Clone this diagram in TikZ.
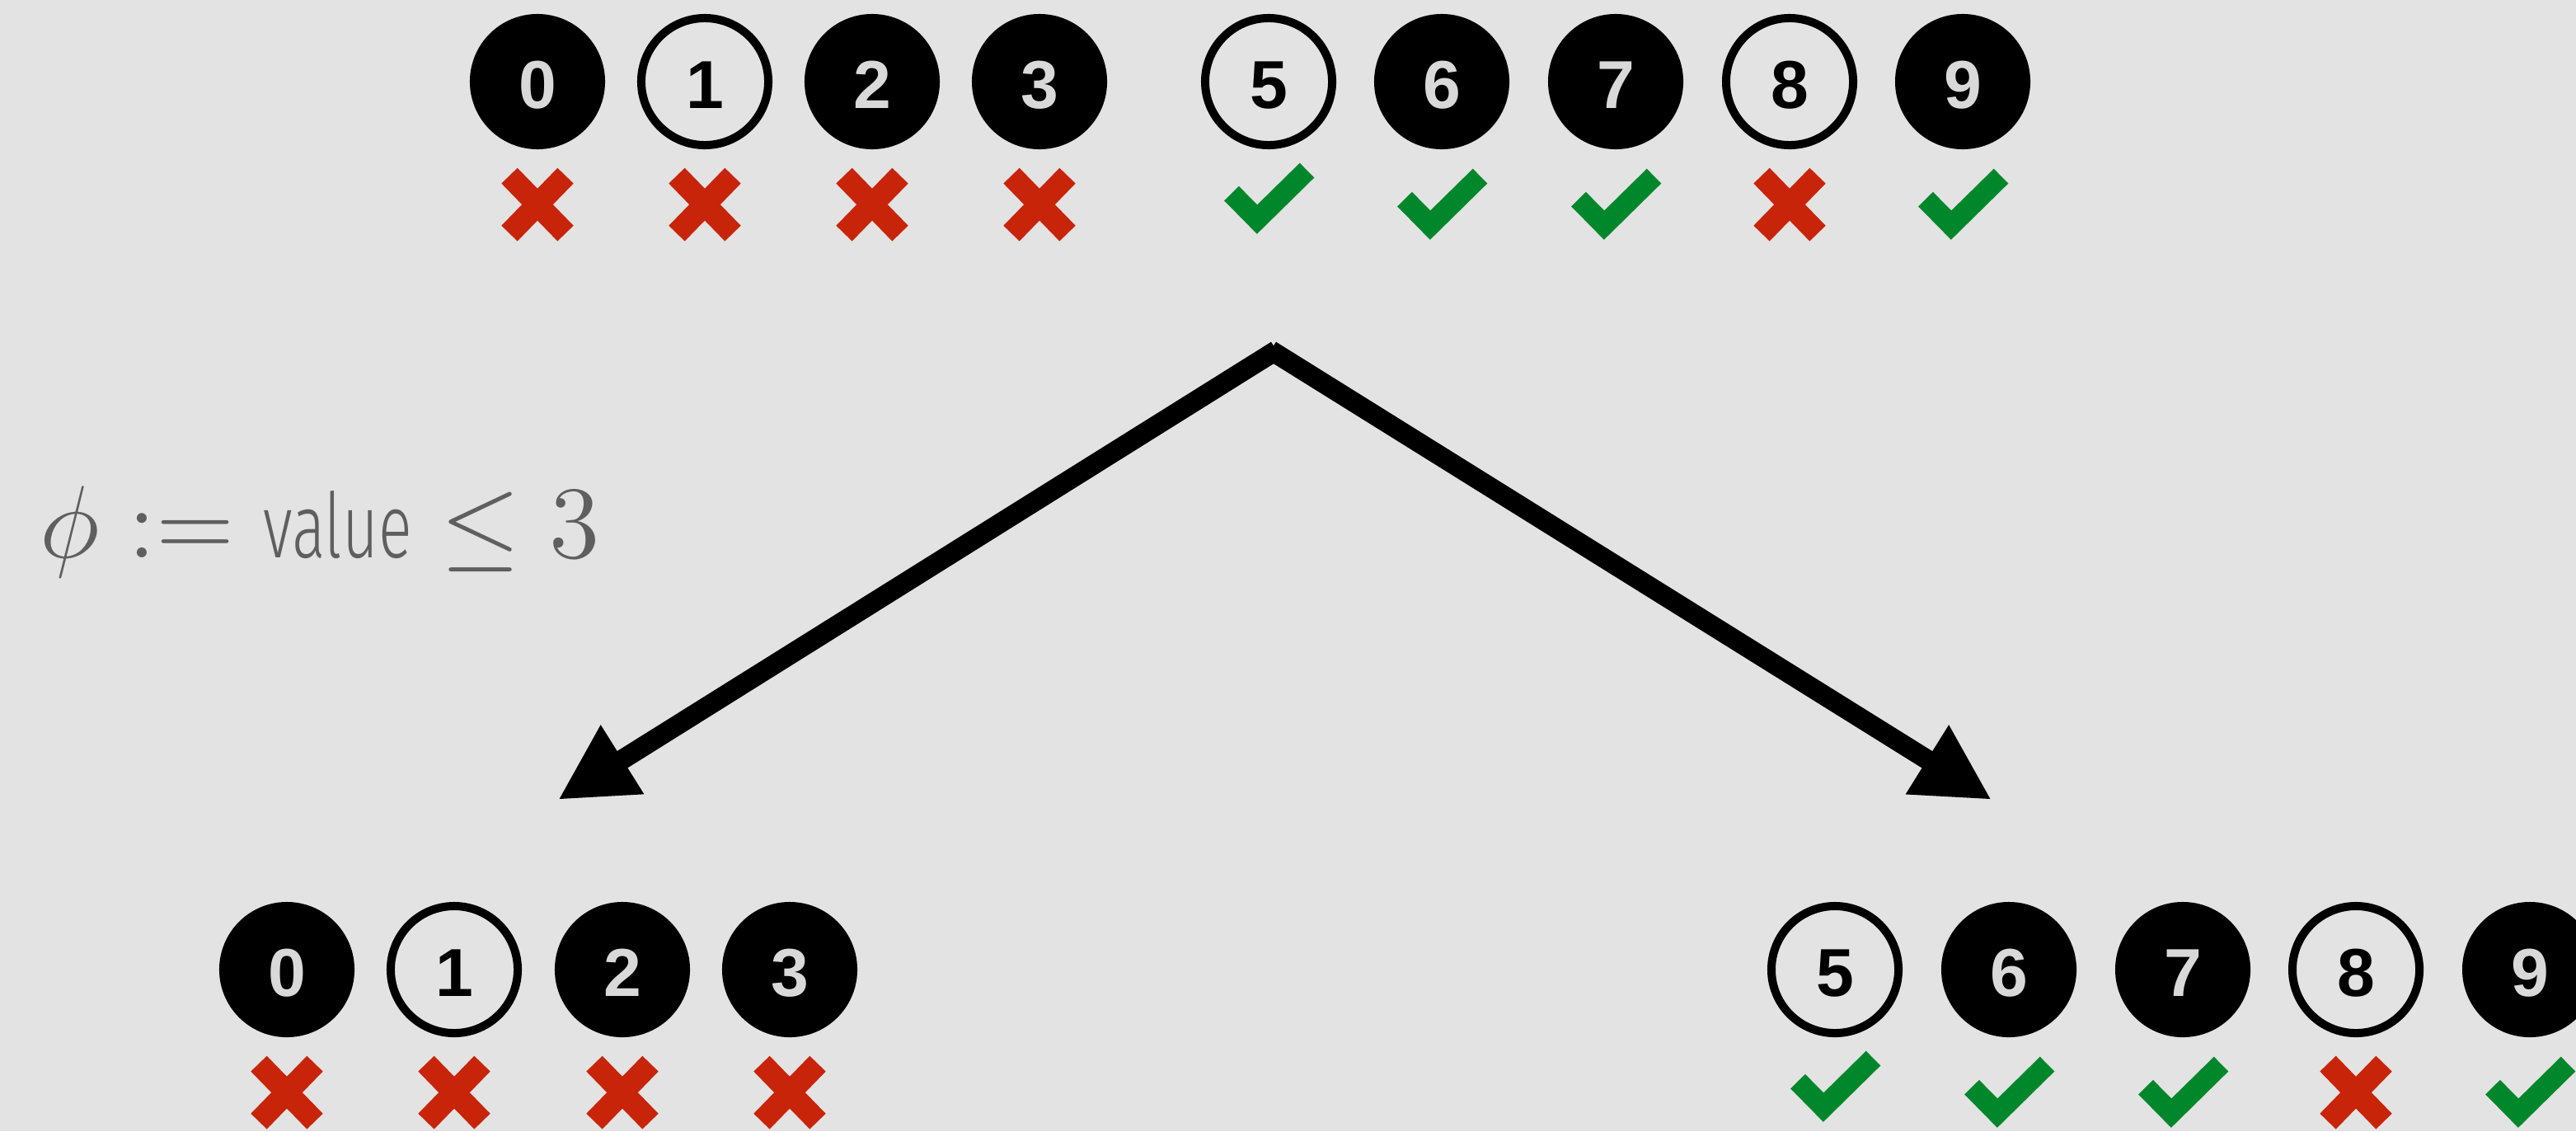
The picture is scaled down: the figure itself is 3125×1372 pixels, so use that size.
\documentclass[tikz,border=0pt]{standalone}
\usepackage{fontspec}
\usepackage{graphicx}
\usetikzlibrary{arrows.meta}
\newfontfamily\digitfont{Liberation Sans}
\IfFontExistsTF{Fira Sans Light}{\newfontfamily\valuefont{Fira Sans Light}}{\newfontfamily\valuefont{Fira Sans}}
\definecolor{bg}{HTML}{E3E3E3}
\definecolor{digitgray}{HTML}{D9D9D9}
\definecolor{xred}{HTML}{C8240A}
\definecolor{okgreen}{HTML}{00872C}
\definecolor{formgray}{HTML}{5F5F5F}
\tikzset{
  ballfull/.style={circle, draw=black, fill=black, line width=0.1cm, minimum size=1.54cm, inner sep=0pt,
    text height=0.65cm, text depth=0pt,
    text=digitgray, font=\digitfont\bfseries\fontsize{23.4pt}{26pt}\selectfont},
  ballring/.style={ballfull, fill=none, text=black},
  xstyle/.style={line width=0.27cm, draw=xred, line cap=butt},
  okstyle/.style={line width=0.25cm, draw=okgreen, line cap=butt, line join=miter},
  conn/.style={line width=0.24cm, line cap=butt, shorten <=-0.04cm, -{Triangle[length=0.92cm,width=0.92cm]}},
  formula/.style={anchor=base, text=formgray, font=\fontsize{12pt}{14pt}\selectfont, inner sep=0pt},
  crossmark/.pic={\draw[xstyle] (-34,-35) -- (34,35); \draw[xstyle] (-34,35) -- (34,-35);},
  checkmk/.pic={\draw[okstyle] (-45,-6.5) -- (-14,25) -- (46.5,-34.5);}
}
\begin{document}
\begin{tikzpicture}[x=0.01cm, y=-0.01cm]
\fill[bg] (0,0) rectangle (3125,1372);
\useasboundingbox (0,0) rectangle (3125,1372);
% top row
\node[ballfull] (t0) at (652,99) {0};
\node[ballring] (t1) at (855,99) {1};
\node[ballfull] (t2) at (1058,99) {2};
\node[ballfull] (t3) at (1261,99) {3};
\node[ballring] (t5) at (1539,99) {5};
\node[ballfull] (t6) at (1749,99) {6};
\node[ballfull] (t7) at (1960,99) {7};
\node[ballring] (t8) at (2171,99) {8};
\node[ballfull] (t9) at (2381,99) {9};
\pic at ([yshift=-1.49cm]t0.center) {crossmark};
\pic at ([yshift=-1.49cm]t1.center) {crossmark};
\pic at ([yshift=-1.49cm]t2.center) {crossmark};
\pic at ([yshift=-1.49cm]t3.center) {crossmark};
\pic at ([yshift=-1.42cm]t5.center) {checkmk};
\pic at ([yshift=-1.49cm]t6.center) {checkmk};
\pic at ([yshift=-1.49cm]t7.center) {checkmk};
\pic at ([yshift=-1.49cm]t8.center) {crossmark};
\pic at ([yshift=-1.49cm]t9.center) {checkmk};
% bottom row
\node[ballfull] (b0) at (348,1176) {0};
\node[ballring] (b1) at (551,1176) {1};
\node[ballfull] (b2) at (755,1176) {2};
\node[ballfull] (b3) at (958,1176) {3};
\node[ballring] (b5) at (2226,1176) {5};
\node[ballfull] (b6) at (2437,1176) {6};
\node[ballfull] (b7) at (2648,1176) {7};
\node[ballring] (b8) at (2858,1176) {8};
\node[ballfull] (b9) at (3069,1176) {9};
\pic at ([yshift=-1.49cm]b0.center) {crossmark};
\pic at ([yshift=-1.49cm]b1.center) {crossmark};
\pic at ([yshift=-1.49cm]b2.center) {crossmark};
\pic at ([yshift=-1.49cm]b3.center) {crossmark};
\pic at ([yshift=-1.42cm]b5.center) {checkmk};
\pic at ([yshift=-1.49cm]b6.center) {checkmk};
\pic at ([yshift=-1.49cm]b7.center) {checkmk};
\pic at ([yshift=-1.49cm]b8.center) {crossmark};
\pic at ([yshift=-1.49cm]b9.center) {checkmk};
% split arrows
\coordinate (apex) at (1545,427);
\coordinate (ltip) at (677,970);
\coordinate (rtip) at (2416,970);
\draw[conn] (apex) -- (ltip);
\draw[conn] (apex) -- (rtip);
% predicate
\node[formula] (phi) at (388,676) {\scalebox{2.96}{$\phi := \mbox{\valuefont\fontsize{10.5pt}{12pt}\selectfont\resizebox{0.608cm}{\height}{value}} \leq 3$}};
\end{tikzpicture}
\end{document}
